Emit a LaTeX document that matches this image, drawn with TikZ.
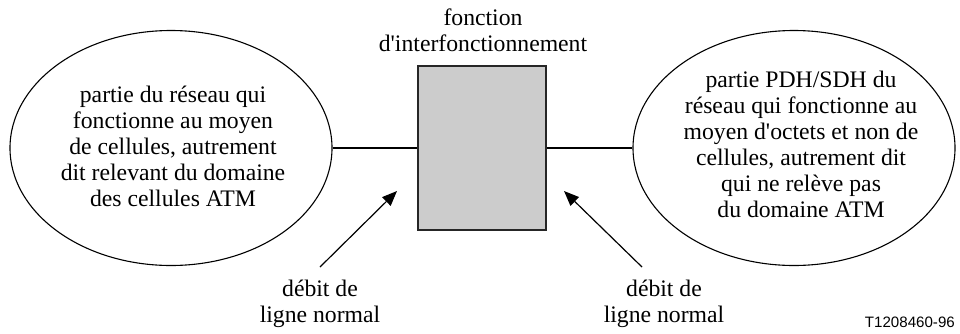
\documentclass[tikz,border=0pt]{standalone}
\usepackage{fontspec}
\setmainfont{Liberation Serif}[Ligatures=TeXOff]
\newfontfamily\refsans{Liberation Sans}
\usetikzlibrary{shapes.geometric,arrows.meta}
\begin{document}
\begin{tikzpicture}[x=1pt,y=-1pt,
  txt/.style={font=\fontsize{23.7}{26}\selectfont, align=center, inner sep=0pt},
  bubble/.style={ellipse, draw, line width=1.1pt, minimum width=322pt, minimum height=235pt, inner sep=0pt},
  iwfbox/.style={draw=black!85, fill=black!20, line width=1.4pt, minimum width=128pt, minimum height=164pt, inner sep=0pt},
  link/.style={line width=1.1pt},
  pointer/.style={line width=1.2pt, -{Triangle[length=15pt,width=12pt]}}]
\useasboundingbox (0,0) rectangle (960,333);

% network domains and the interworking function
\node[bubble] (atm) at (171,148) {};
\node[bubble] (pdh) at (794,148) {};
\node[iwfbox] (iwf) at (482,148) {};

\node[txt] (atmtext) at (173,146) {partie du réseau qui\\fonctionne au moyen\\de cellules, autrement\\dit relevant du domaine\\des cellules ATM};
\node[txt] (pdhtext) at (801,144) {partie PDH/SDH du\\réseau qui fonctionne au\\moyen d'octets et non de\\cellules, autrement dit\\qui ne relève pas\\du domaine ATM};
\node[txt] (iwftext) at (483,30) {fonction\\d'interfonctionnement};

% connections
\draw[link] (atm) -- (iwf);
\draw[link] (iwf) -- (pdh);

% line-rate labels with pointers
\node[txt] (ratel) at (320,304) {débit de\\ligne normal};
\node[txt] (rater) at (664,304) {débit de\\ligne normal};
\coordinate (lt) at (320,267);
\coordinate (lh) at (397,191);
\coordinate (rt) at (642,267);
\coordinate (rh) at (564,191);
\draw[pointer] (lt) -- (lh);
\draw[pointer] (rt) -- (rh);

% figure reference
\node[font=\refsans\fontsize{15.1}{18}\selectfont, inner sep=0pt, anchor=base east] (figref) at (955,327) {T1208460-96};
\end{tikzpicture}
\end{document}
